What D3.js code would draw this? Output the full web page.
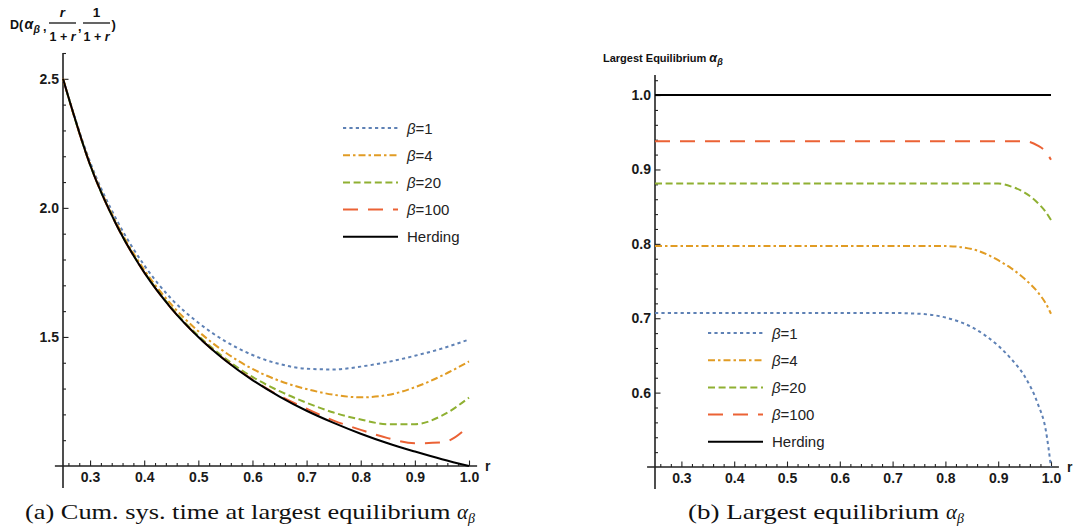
<!DOCTYPE html>
<html>
<head>
<meta charset="utf-8">
<title></title>
<style type="text/css">
    body{ padding:0; margin:0; overflow:hidden; background:#fff; }
</style>
</head>
<body>
<div id="chart"></div>
<script src="https://cdn.jsdelivr.net/npm/d3@7"></script>
<script type="text/javascript">

// ---- data ----
var names = ["β=1", "β=4", "β=20", "β=100", "Herding"];

// (a) cumulative system time
var rLeft       = [0.25, 0.30, 0.35, 0.40, 0.45, 0.50, 0.55, 0.60, 0.65, 0.70, 0.75, 0.80, 0.85, 0.90, 0.95, 1.00];
var beta1Left   = [2.50, 2.178, 1.950, 1.778, 1.648, 1.555, 1.483, 1.430, 1.395, 1.377, 1.374, 1.385, 1.403, 1.427, 1.455, 1.49];
var beta4Left   = [2.50, 2.170, 1.936, 1.760, 1.626, 1.522, 1.440, 1.376, 1.330, 1.298, 1.276, 1.266, 1.275, 1.305, 1.350, 1.405];
var beta20Left  = [2.50, 2.167, 1.930, 1.752, 1.614, 1.505, 1.416, 1.345, 1.290, 1.245, 1.207, 1.180, 1.162, 1.162, 1.195, 1.265];
var beta100Left = [2.50, 2.167, 1.929, 1.750, 1.611, 1.500, 1.410, 1.335, 1.272, 1.222, 1.176, 1.140, 1.108, 1.088, 1.091, 1.155];
var herdLeft    = [2.50, 2.167, 1.929, 1.750, 1.611, 1.500, 1.409, 1.333, 1.269, 1.214, 1.167, 1.125, 1.088, 1.056, 1.026, 1.00];

// (b) largest equilibrium
var rRight       = [0.25, 0.50, 0.70, 0.75, 0.80, 0.85, 0.90, 0.925, 0.95, 0.975, 0.99, 1.00];
var beta1Right   = [0.707, 0.707, 0.707, 0.706, 0.701, 0.688, 0.663, 0.645, 0.622, 0.585, 0.55, 0.50];
var beta4Right   = [0.797, 0.797, 0.797, 0.797, 0.797, 0.793, 0.778, 0.767, 0.753, 0.735, 0.720, 0.706];
var beta20Right  = [0.881, 0.881, 0.881, 0.881, 0.881, 0.881, 0.881, 0.877, 0.869, 0.855, 0.843, 0.832];
var beta100Right = [0.938, 0.938, 0.938, 0.938, 0.938, 0.938, 0.938, 0.938, 0.938, 0.932, 0.924, 0.913];
var herdRight    = [1.0, 1.0, 1.0, 1.0, 1.0, 1.0, 1.0, 1.0, 1.0, 1.0, 1.0, 1.0];

var xTicks = [0.3, 0.4, 0.5, 0.6, 0.7, 0.8, 0.9, 1.0];
var leftYTicks = [1.5, 2.0, 2.5];
var rightYTicks = [0.6, 0.7, 0.8, 0.9, 1.0];

// ---- styles ----
var colors = ["#5e81b5", "#e19c24", "#8fb032", "#eb6235", "#000"];
var dashes = ["3.2,3.2", "7,3,2.5,3", "7,3.6", "15,10", null];
var SANS = '"Liberation Sans", Arial, sans-serif';
var SERIF = '"Liberation Serif", "Times New Roman", serif';

var width = 1074, height = 529;
var svg = d3.select('#chart').append('svg').attr('width', width).attr('height', height)
    .style('font-family', SANS);

function range(a, b, s){ var out = []; for(var v = a; v <= b + 1e-9; v += s) out.push(+v.toFixed(3)); return out; }

function styleAxis(sel){
    sel.attr('font-family', null).attr('font-size', null);
    sel.selectAll('.tick text').style('font-family', SANS).style('font-weight', 'bold')
        .style('font-size', '14px').attr('fill', '#1a1a1a');
}

function panel(o){
    var g = svg.append('g');
    var x = d3.scaleLinear().domain([0.25, 1.0]).range(o.xr);
    var y = d3.scaleLinear().domain(o.yd).range(o.yr);

    // x axis (ticks point up, labels below)
    var xMinor = range(0.26, 1.0, 0.02).filter(function(v){ return xTicks.indexOf(v) < 0; });
    g.append('g').attr('transform', 'translate(0,' + y(o.yd[0]) + ')')
        .call(d3.axisBottom(x).tickValues(xMinor).tickSize(-3).tickFormat(''));
    g.append('g').attr('transform', 'translate(0,' + y(o.yd[0]) + ')')
        .call(d3.axisBottom(x).tickValues(xTicks).tickSize(-5.5).tickPadding(6).tickFormat(d3.format('.1f')))
        .call(styleAxis);

    // y axis (ticks point right, labels left)
    g.append('g').attr('transform', 'translate(' + x(0.25) + ',0)')
        .call(d3.axisLeft(y).tickValues(o.yMinor).tickSize(-3).tickFormat(''));
    g.append('g').attr('transform', 'translate(' + x(0.25) + ',0)')
        .call(d3.axisLeft(y).tickValues(o.yTicks).tickSize(-5.5).tickPadding(4).tickFormat(d3.format('.1f')))
        .call(styleAxis);

    g.selectAll('.domain').remove();
    g.selectAll('.tick line').attr('stroke', '#222').attr('stroke-width', 1.1);

    // axis lines, a bit past the plot like Mathematica draws them
    g.append('line').attr('x1', x(0.235)).attr('x2', x(1.015)).attr('y1', y(o.yd[0])).attr('y2', y(o.yd[0]))
        .attr('stroke', '#222').attr('stroke-width', 1.6);
    g.append('line').attr('x1', x(0.25)).attr('x2', x(0.25)).attr('y1', y(o.yTop)).attr('y2', y(o.yd[0]) + 22)
        .attr('stroke', '#222').attr('stroke-width', 1.6);
    g.append('text').attr('x', x(1.015) + 8).attr('y', y(o.yd[0]) + 5)
        .style('font-weight', 'bold').style('font-size', '14px').attr('fill', '#1a1a1a').text('r');

    var line = d3.line().x(function(d){ return x(d[0]); }).y(function(d){ return y(d[1]); })
        .curve(d3.curveMonotoneX);

    o.series.forEach(function(vals, i){
        g.append('path').datum(o.rs.map(function(r, j){ return [r, vals[j]]; }))
            .attr('d', line).attr('fill', 'none')
            .attr('stroke', colors[i]).attr('stroke-width', 2)
            .attr('stroke-dasharray', dashes[i]);
    });

    // legend
    var lg = g.append('g').attr('transform', 'translate(' + o.legend[0] + ',' + o.legend[1] + ')');
    names.forEach(function(n, i){
        var row = lg.append('g').attr('transform', 'translate(0,' + (i * o.legendStep) + ')');
        row.append('line').attr('x1', 0).attr('x2', 55).attr('y1', 0).attr('y2', 0)
            .attr('stroke', colors[i]).attr('stroke-width', 2).attr('stroke-dasharray', dashes[i]);
        var t = row.append('text').attr('x', 64).attr('y', 5.5).style('font-size', '15px').attr('fill', '#222');
        if(n.charAt(0) === 'β'){
            t.append('tspan').style('font-style', 'italic').text('β');
            t.append('tspan').text(n.slice(1));
        } else t.text(n);
    });
    return g;
}

panel({
    xr: [63, 469], yd: [1.0, 2.6], yr: [466, 53], yTop: 2.6,
    yTicks: leftYTicks,
    yMinor: range(1.1, 2.6, 0.1).filter(function(v){ return leftYTicks.indexOf(v) < 0; }),
    rs: rLeft, series: [beta1Left, beta4Left, beta20Left, beta100Left, herdLeft],
    legend: [343, 128], legendStep: 27.2
});

panel({
    xr: [655, 1051], yd: [0.5, 1.027], yr: [467, 75], yTop: 1.027,
    yTicks: rightYTicks,
    yMinor: range(0.52, 1.02, 0.02).filter(function(v){ return rightYTicks.indexOf(v) < 0; }),
    rs: rRight, series: [beta1Right, beta4Right, beta20Right, beta100Right, herdRight],
    legend: [708, 333], legendStep: 27.2
});

// y label of (a): D(α_β, r/(1+r), 1/(1+r))
var yl = svg.append('g').style('font-weight', 'bold').style('font-size', '12.5px').attr('fill', '#111');
yl.append('text').attr('x', 10).attr('y', 29).text('D(');
yl.append('text').attr('x', 24.5).attr('y', 29).style('font-style', 'italic').style('font-size', '14px').text('α');
yl.append('text').attr('x', 33.5).attr('y', 33).style('font-style', 'italic').style('font-size', '10.5px').text('β');
yl.append('text').attr('x', 43).attr('y', 31).text(',');
function frac(cx, num){
    yl.append('text').attr('x', cx).attr('y', 17).attr('text-anchor', 'middle')
        .style('font-style', num === 'r' ? 'italic' : 'normal').style('font-size', '13.5px').text(num);
    yl.append('line').attr('x1', cx - 13.5).attr('x2', cx + 13.5).attr('y1', 23).attr('y2', 23)
        .attr('stroke', '#111').attr('stroke-width', 1.3);
    var d = yl.append('text').attr('x', cx).attr('y', 40.5).attr('text-anchor', 'middle');
    d.append('tspan').text('1 + ');
    d.append('tspan').style('font-style', 'italic').text('r');
}
frac(62.5, 'r');
yl.append('text').attr('x', 78).attr('y', 31).text(',');
frac(96.5, '1');
yl.append('text').attr('x', 111.5).attr('y', 29).style('font-size', '13px').text(')');

// title of (b)
var tt = svg.append('text').attr('x', 603).attr('y', 62).style('font-weight', 'bold').style('font-size', '11px').attr('fill', '#111');
tt.append('tspan').text('Largest Equilibrium ');
tt.append('tspan').style('font-style', 'italic').style('font-size', '12.5px').text('α');
tt.append('tspan').attr('dy', 3).style('font-style', 'italic').style('font-size', '9px').text('β');

// captions
function caption(x, label, len){
    var c = svg.append('text').attr('x', x).attr('y', 519)
        .style('font-family', SERIF).style('font-size', '21px').attr('fill', '#111');
    c.append('tspan').attr('textLength', len).attr('lengthAdjust', 'spacingAndGlyphs').text(label);
    c.append('tspan').style('font-style', 'italic').text('α');
    c.append('tspan').attr('dy', 4).style('font-style', 'italic').style('font-size', '14px').text('β');
}
caption(25, '(a) Cum. sys. time at largest equilibrium ', 432);
caption(688, '(b) Largest equilibrium ', 258);

</script>
</body>
</html>
